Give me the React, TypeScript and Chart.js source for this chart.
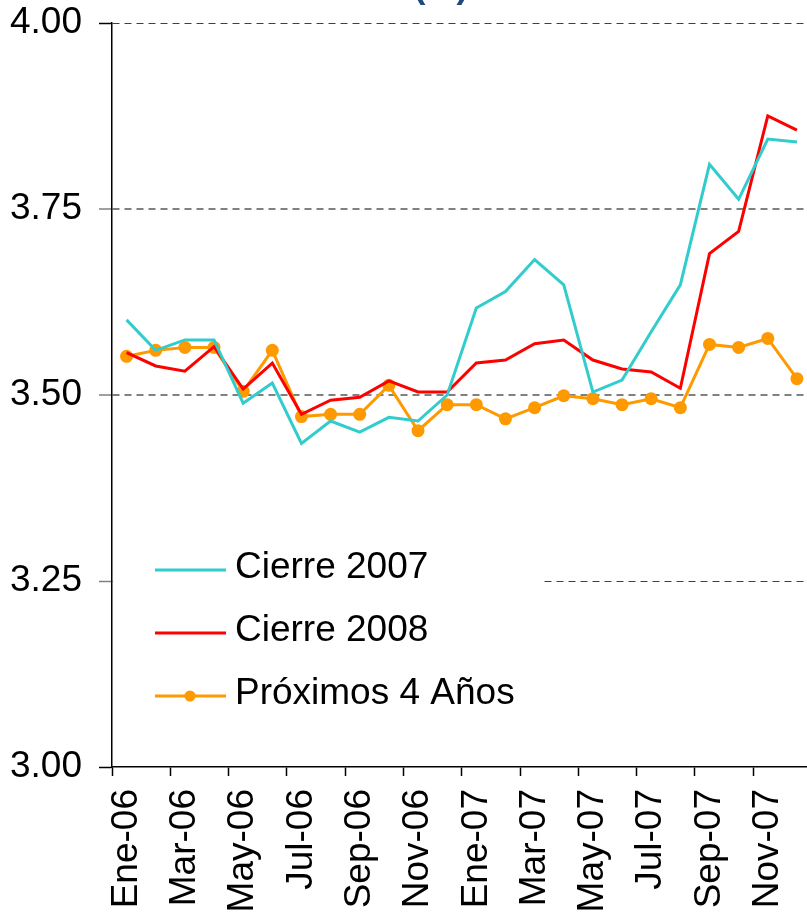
import React, { useEffect, useRef } from "react";
import { Chart, registerables } from "chart.js";

Chart.register(...registerables);

const months = [
  "Ene-06", "Feb-06", "Mar-06", "Abr-06", "May-06", "Jun-06",
  "Jul-06", "Ago-06", "Sep-06", "Oct-06", "Nov-06", "Dic-06",
  "Ene-07", "Feb-07", "Mar-07", "Abr-07", "May-07", "Jun-07",
  "Jul-07", "Ago-07", "Sep-07", "Oct-07", "Nov-07", "Dic-07",
];

const cierre2007 = [
  3.601, 3.56, 3.574, 3.574, 3.489, 3.516, 3.435, 3.465, 3.45, 3.47, 3.465, 3.5,
  3.617, 3.639, 3.682, 3.648, 3.504, 3.52, 3.585, 3.648, 3.81, 3.763, 3.844, 3.84,
];

const cierre2008 = [
  3.557, 3.539, 3.532, 3.565, 3.508, 3.543, 3.474, 3.493, 3.497, 3.519, 3.504, 3.504,
  3.543, 3.547, 3.569, 3.574, 3.547, 3.535, 3.531, 3.509, 3.69, 3.72, 3.875, 3.856,
];

const proximos4 = [
  3.552, 3.56, 3.564, 3.564, 3.505, 3.56, 3.471, 3.474, 3.474, 3.513, 3.452, 3.487,
  3.487, 3.468, 3.483, 3.499, 3.495, 3.487, 3.495, 3.483, 3.568, 3.564, 3.576, 3.522,
];

const seriesNames = ["Cierre 2007", "Cierre 2008", "Próximos 4 Años"];
const seriesColors = ["#33CCCC", "#FF0000", "#FF9900"];
const titleText = "(%)";

const FONT = "'Liberation Sans', Arial, sans-serif";
const FSIZE = 37;

const overlayPlugin = {
  id: "overlay",
  afterDraw(chart: any) {
    const ctx = chart.ctx;
    const area = chart.chartArea;
    ctx.save();
    // title (cut at the top)
    ctx.fillStyle = "#1F4A80";
    ctx.font = `bold 35px ${FONT}`;
    ctx.textAlign = "center";
    ctx.textBaseline = "alphabetic";
    ctx.fillText(titleText, 441, -2);

    // legend box
    ctx.fillStyle = "#FFFFFF";
    ctx.fillRect(area.left + 1, 528, 540 - area.left - 1, 198);
    const ys = [570, 633, 696];
    ctx.font = `${FSIZE}px ${FONT}`;
    ctx.textAlign = "left";
    for (let i = 0; i < seriesNames.length; i++) {
      ctx.strokeStyle = seriesColors[i];
      ctx.lineWidth = 3;
      ctx.beginPath();
      ctx.moveTo(155, ys[i]);
      ctx.lineTo(226, ys[i]);
      ctx.stroke();
      if (i === 2) {
        ctx.fillStyle = seriesColors[i];
        ctx.beginPath();
        ctx.arc(190, ys[i], 5.5, 0, Math.PI * 2);
        ctx.fill();
      }
      ctx.fillStyle = "#000000";
      ctx.fillText(seriesNames[i], 235, ys[i] + 8);
    }
    ctx.restore();
  },
};

export default function App() {
  const ref = useRef<HTMLCanvasElement | null>(null);

  useEffect(() => {
    if (!ref.current) return;
    const chart = new Chart(ref.current, {
      type: "line",
      data: {
        labels: months,
        datasets: [
          {
            label: seriesNames[0],
            data: cierre2007,
            borderColor: seriesColors[0],
            backgroundColor: seriesColors[0],
            borderWidth: 3,
            pointRadius: 0,
            tension: 0,
          },
          {
            label: seriesNames[1],
            data: cierre2008,
            borderColor: seriesColors[1],
            backgroundColor: seriesColors[1],
            borderWidth: 3,
            pointRadius: 0,
            tension: 0,
          },
          {
            label: seriesNames[2],
            data: proximos4,
            borderColor: seriesColors[2],
            backgroundColor: seriesColors[2],
            borderWidth: 3,
            pointRadius: 6.5,
            pointBorderWidth: 0,
            tension: 0,
          },
        ],
      },
      options: {
        responsive: false,
        animation: false,
        layout: { padding: { top: 23, left: 0, right: 0, bottom: 0 } },
        plugins: {
          legend: { display: false },
          title: { display: false },
          tooltip: { enabled: false },
        },
        scales: {
          x: {
            type: "category",
            offset: true,
            afterFit(scale: any) {
              scale.height = 148;
              scale.paddingLeft = 0;
              scale.paddingRight = 0;
              scale.paddingTop = 0;
              scale.paddingBottom = 0;
            },
            grid: {
              offset: true,
              drawOnChartArea: false,
              drawTicks: true,
              tickLength: 9,
              tickColor(c: any) {
                return c.index % 2 === 0 ? "#000000" : "rgba(0,0,0,0)";
              },
              tickWidth: 1.5,
            },
            border: { display: true, color: "#000000", width: 1.5 },
            ticks: {
              autoSkip: false,
              maxRotation: 90,
              minRotation: 90,
              padding: 13,
              color: "#000000",
              font: { family: FONT, size: FSIZE },
              callback(_v: any, i: number) {
                return i % 2 === 0 ? months[i] : "";
              },
            },
          },
          y: {
            min: 3,
            max: 4,
            afterFit(scale: any) {
              scale.width = 112;
              scale.paddingLeft = 0;
              scale.paddingRight = 0;
              scale.paddingTop = 0;
              scale.paddingBottom = 0;
            },
            grid: {
              drawOnChartArea: true,
              drawTicks: true,
              tickLength: 13,
              color(c: any) {
                const v = c.tick ? c.tick.value : 0;
                if (Math.abs(v - 3) < 1e-6) return "rgba(0,0,0,0)";
                if (Math.abs(v - 3.5) < 1e-6 || Math.abs(v - 3.75) < 1e-6) return "#808080";
                return "#404040";
              },
              lineWidth(c: any) {
                const v = c.tick ? c.tick.value : 0;
                if (Math.abs(v - 3.5) < 1e-6 || Math.abs(v - 3.75) < 1e-6) return 2;
                return 1;
              },
              tickColor(c: any) {
                const v = c.tick ? c.tick.value : 0;
                if (Math.abs(v - 3) < 1e-6 || Math.abs(v - 4) < 1e-6) return "#000000";
                return "#808080";
              },
              tickWidth: 1.5,
            },
            border: { display: true, color: "#000000", width: 1.5, dash: [7, 5] },
            ticks: {
              stepSize: 0.25,
              padding: 17,
              color: "#000000",
              font: { family: FONT, size: FSIZE },
              callback(v: any) {
                return Number(v).toFixed(2);
              },
            },
          },
        },
      },
      plugins: [overlayPlugin],
    } as any);
    return () => chart.destroy();
  }, []);

  return (
    <div
      style={{
        position: "absolute",
        left: 0,
        top: 0,
        width: 807,
        height: 915,
        overflow: "hidden",
        background: "#FFFFFF",
      }}
    >
      <canvas ref={ref} width={818} height={915} style={{ display: "block" }} />
    </div>
  );
}
